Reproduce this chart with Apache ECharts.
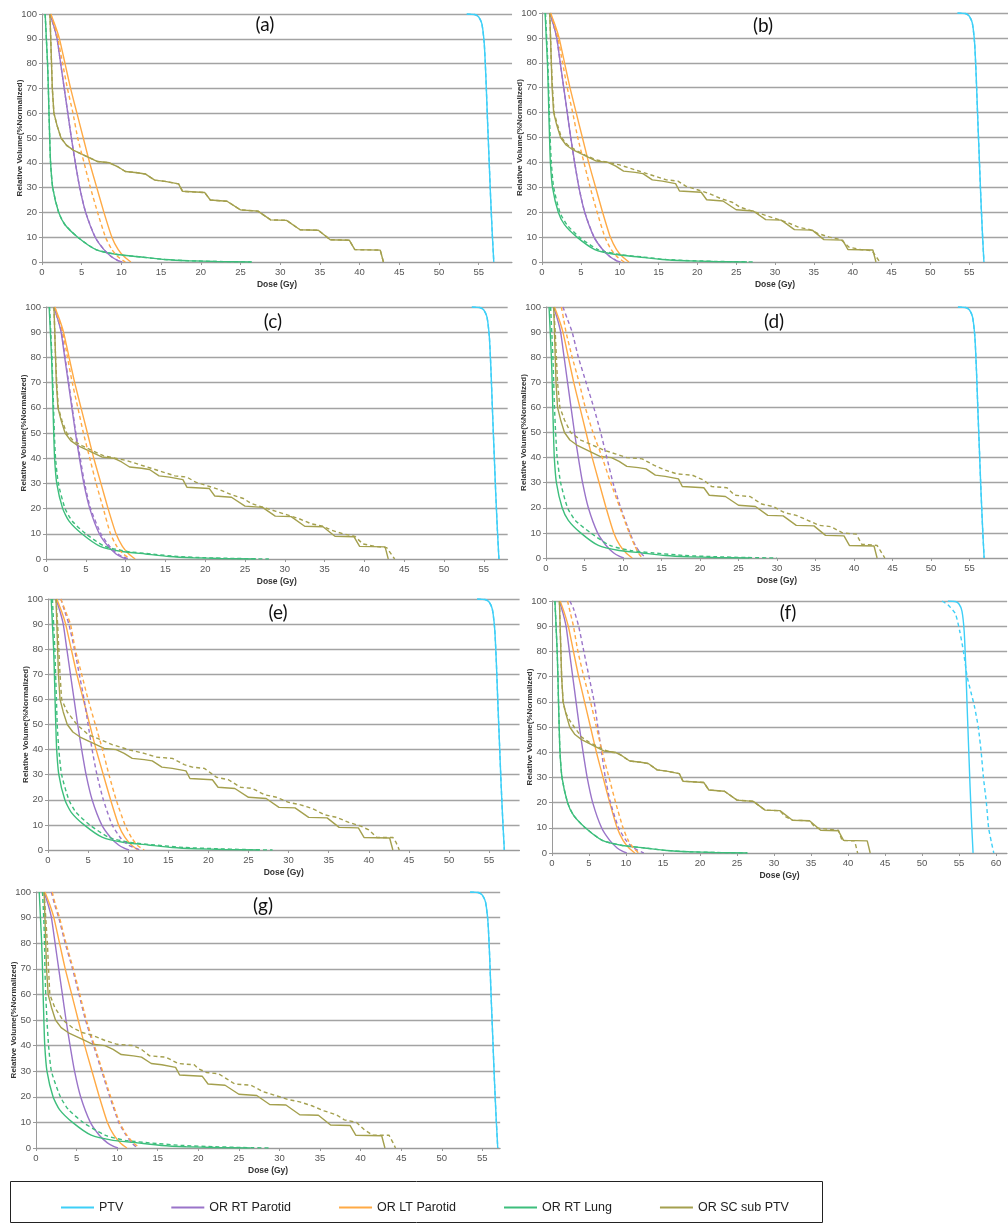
<!DOCTYPE html>
<html><head><meta charset="utf-8">
<script src="https://cdn.jsdelivr.net/npm/echarts@6/dist/echarts.min.js"></script>
<style>html,body{margin:0;padding:0;background:#fff}#c{width:1008px;height:1224px}</style>
</head><body><div id="c"></div><script>
// ---------- DATA ----------
const structures = ['PTV', 'OR RT Parotid', 'OR LT Parotid', 'OR RT Lung', 'OR SC sub PTV'];
const panelLabels = ['(a)', '(b)', '(c)', '(d)', '(e)', '(f)', '(g)'];

// reference plan (solid lines) - [dose Gy, volume %]
const ptvSolid = [[53.5,100],[54.5,99.8],[55.0,98.8],[55.4,96],[55.7,88],[55.9,75],[56.1,58],[56.3,42],[56.5,26],[56.7,12],[56.85,3],[56.9,0]];
const rtParotidSolid = [[1.0,100],[1.5,95],[1.9,90],[2.35,80],[2.8,70],[3.25,60],[3.7,50],[4.2,40],[4.75,30],[5.5,20],[6.7,10],[7.8,5],[8.8,2],[9.5,0.7],[10.1,0]];
const ltParotidSolid = [[1.1,100],[1.7,95],[2.2,90],[2.9,80],[3.6,70],[4.4,60],[5.2,50],[6.0,40],[6.9,30],[7.8,20],[8.8,10],[9.6,5],[10.4,2],[11.2,0]];
const rtLungSolid = [[0.4,100],[0.55,90],[0.7,80],[0.8,70],[0.88,60],[0.97,50],[1.08,40],[1.35,30],[2.1,20],[2.9,15],[4.5,10],[6.8,5],[9.5,3],[12.5,2],[15.5,1],[18.5,0.5],[22,0.2],[26.4,0]];
const scSolid = [[1.0,100],[1.1,90],[1.2,80],[1.3,70],[1.5,60],[1.9,55],[2.4,50],[3.1,47],[4.0,45],[5.0,43.5],[6.0,42],[7.0,40.5],[8.5,40],[9.5,38.5],[10.5,36.5],[12.0,36],[13.0,35.5],[14.2,33],[15.5,32.5],[17.2,31.5],[17.7,28.5],[20.5,28],[21.2,25],[23.3,24.5],[25.0,21],[27.2,20.5],[28.8,17],[30.8,16.8],[32.5,13],[34.8,12.8],[36.3,9],[38.7,8.8],[39.4,5],[42.6,4.8],[43.0,0]];

// comparison plans (dashed lines)
const ltParotidDashA = [[1.1,100],[1.6,95],[2.0,90],[2.6,80],[3.2,70],[3.9,60],[4.5,50],[5.3,40],[6.1,30],[7.0,20],[8.0,10],[8.8,5],[9.6,2],[10.5,0]];

const ltParotidDashB = [[1.1,100],[1.6,95],[2.05,90],[2.65,80],[3.25,70],[3.95,60],[4.6,50],[5.4,40],[6.2,30],[7.1,20],[8.1,10],[8.9,5],[9.7,2],[10.6,0]];
const rtLungDashB = [[0.45,100],[0.6,90],[0.75,80],[0.85,70],[0.95,60],[1.05,50],[1.2,40],[1.5,30],[2.3,20],[3.2,15],[4.8,10],[7.2,5],[10,3],[13,2],[16,1],[19.5,0.5],[23,0.2],[27.5,0]];
const scDashB = [[1.0,100],[1.1,90],[1.2,80],[1.35,70],[1.55,60],[2.0,55],[2.5,50],[3.3,47],[4.3,45],[5.5,43],[7.0,41],[8.5,40],[10.0,39],[11.5,37.5],[13.0,36],[14.5,34.5],[16.0,33],[17.5,32.5],[18.5,30.5],[20.0,29],[21.5,27.5],[23.0,25.5],[24.5,24],[25.5,22],[27.0,20.5],[28.5,19],[30.0,17.5],[31.5,16],[33.0,14],[34.5,13],[35.5,11.5],[37.0,10],[38.5,9],[39.5,6],[41.0,5],[42.5,4.5],[43.5,0]];

const rtParotidDashC = [[1.0,100],[1.5,95],[1.95,90],[2.4,80],[2.85,70],[3.3,60],[3.75,50],[4.3,40],[4.85,30],[5.6,20],[6.9,10],[8.0,5],[9.0,2],[9.8,0.7],[10.4,0]];
const ltParotidDashC = [[1.1,100],[1.6,95],[2.1,90],[2.7,80],[3.3,70],[4.0,60],[4.7,50],[5.5,40],[6.3,30],[7.2,20],[8.1,10],[8.9,5],[9.7,2],[10.6,0]];
const rtLungDashC = [[0.45,100],[0.6,90],[0.75,80],[0.85,70],[0.95,60],[1.05,50],[1.2,40],[1.55,30],[2.4,20],[3.3,15],[5.0,10],[7.4,5],[10.2,3],[13.2,2],[16.5,1],[20,0.5],[24,0.2],[28,0]];
const scDashC = [[1.0,100],[1.1,90],[1.2,80],[1.35,70],[1.55,60],[2.0,55],[2.6,50],[3.4,47],[4.5,45],[5.8,43],[7.2,41],[8.7,40],[10.2,39],[11.7,37.5],[13.2,36],[14.7,34.5],[16.2,33],[17.7,32.5],[18.8,30.5],[20.3,29],[21.8,27.5],[23.3,25.5],[24.8,24],[25.8,22],[27.3,20.5],[28.8,19],[30.3,17.5],[31.8,16],[33.3,14],[34.8,13],[35.8,11.5],[37.3,10],[38.8,9],[39.8,6],[41.3,5],[42.8,4.5],[43.8,0]];

const rtParotidDashD = [[2.2,100],[2.8,95],[3.4,90],[4.2,80],[5.2,70],[6.2,60],[7.1,50],[7.9,40],[8.7,30],[9.7,20],[10.9,10],[11.6,5],[12.3,2],[13.0,0]];
const ltParotidDashD = [[2.0,100],[2.3,95],[2.6,90],[3.4,80],[4.3,70],[5.1,60],[6.1,50],[7.3,40],[8.4,30],[9.6,20],[10.8,10],[11.5,5],[12.0,2],[12.5,0]];
const rtLungDashD = [[0.6,100],[0.75,90],[0.9,80],[1.0,70],[1.1,60],[1.25,50],[1.45,40],[1.9,30],[2.8,20],[3.8,15],[5.8,10],[8.3,5],[11,3],[14,2],[18,1],[22,0.5],[26,0.2],[30,0]];
const scDashD = [[1.0,100],[1.2,90],[1.35,80],[1.5,70],[1.8,60],[2.4,55],[3.2,50],[4.5,47],[6.0,45],[7.5,43],[9.0,41.5],[10.5,40],[12.5,39.5],[14.0,37],[15.5,35],[17.0,33.5],[19.0,33],[20.5,31],[21.5,28.5],[23.5,28],[24.5,25],[26.5,24.5],[28.0,21.5],[29.5,20.5],[31.0,18],[32.5,17],[34.0,15],[35.5,13],[37.0,12.5],[38.5,10],[40.3,9.5],[41.0,5.5],[43.0,5],[43.4,3],[44.0,0]];

const rtParotidDashE = [[1.6,100],[2.1,95],[2.6,90],[3.3,80],[3.9,70],[4.5,60],[5.0,50],[5.5,40],[6.1,30],[6.9,20],[8.0,10],[9.0,5],[10.0,2],[11.5,0]];
const ltParotidDashE = [[1.6,100],[2.2,95],[2.8,90],[3.4,80],[4.2,70],[5.0,60],[5.9,50],[6.8,40],[7.6,30],[8.5,20],[9.6,10],[10.4,5],[11.1,2],[12.0,0]];
const rtLungDashE = [[0.55,100],[0.7,90],[0.85,80],[0.95,70],[1.05,60],[1.15,50],[1.35,40],[1.7,30],[2.6,20],[3.5,15],[5.2,10],[7.6,5],[10.3,3],[13.3,2],[17,1],[21,0.5],[24.5,0.2],[28,0]];
const scDashE = [[1.0,100],[1.2,90],[1.35,80],[1.5,70],[1.7,60],[2.4,55],[3.6,50],[5.0,46],[6.5,44],[8.0,42],[10.0,40],[12.0,38.5],[13.5,37],[15.5,36.5],[17.0,34],[18.0,33],[19.5,32.5],[21.0,29],[22.5,28],[24.0,25],[25.5,24.5],[27.0,22],[28.5,21],[30.0,19],[31.5,18],[33.0,16.5],[34.5,14],[36.0,13],[37.5,11],[39.0,9.5],[40.0,8],[41.0,5],[43.0,5],[43.4,3],[43.8,0]];

const rtParotidDashF = [[2.4,100],[2.9,97],[3.6,90],[4.3,80],[5.0,70],[5.7,60],[6.2,50],[6.7,40],[7.2,30],[7.9,20],[9.0,10],[10.0,5],[11.0,2],[12.4,0]];
const ltParotidDashF = [[2.1,100],[2.5,95],[2.9,90],[3.5,80],[4.3,70],[5.2,60],[6.0,50],[6.8,40],[7.7,30],[8.6,20],[9.6,10],[10.3,5],[11.0,2],[11.7,0]];
const scDashF = [[1.0,100],[1.1,90],[1.2,80],[1.3,70],[1.5,60],[1.8,56],[2.3,53],[3.0,50],[4.0,46],[5.0,44],[6.0,42.5],[7.0,41],[8.0,40],[9.0,39.5],[10.5,36.5],[12.0,36],[13.0,35.5],[14.2,33],[15.5,32.5],[17.2,31.5],[17.7,28.5],[20.5,28],[21.2,25],[23.3,24.5],[25.0,21],[27.2,20.5],[28.8,17],[30.8,16.8],[31.5,14.5],[32.5,13],[34.8,12.8],[35.6,10],[38.7,9],[39.2,5],[40.9,4.8],[41.3,0]];
const ptvDashF = [[52.7,100],[53.5,98.5],[54.5,95],[55.1,88],[55.6,80],[56.1,70],[56.6,64],[57.1,58],[57.6,50],[58.0,40],[58.3,30],[58.7,20],[59.0,10],[59.4,4],[59.7,0]];

const rtParotidDashG = [[1.9,100],[2.3,95],[2.8,90],[3.6,80],[4.5,70],[5.3,60],[6.1,50],[7.1,40],[8.1,30],[9.1,20],[10.2,10],[11.1,5],[11.8,2],[12.5,0]];
const ltParotidDashG = [[2.0,100],[2.4,95],[2.9,90],[3.7,80],[4.6,70],[5.4,60],[6.2,50],[7.2,40],[8.2,30],[9.2,20],[10.3,10],[11.2,5],[12.0,2],[12.8,0]];
const rtLungDashG = [[0.8,100],[0.95,90],[1.05,80],[1.1,70],[1.2,60],[1.35,50],[1.55,40],[1.9,30],[3.0,20],[4.0,15],[5.8,10],[8.5,5],[11,3],[14,2],[18,1],[22,0.5],[25.5,0.2],[29,0]];
const scDashG = [[1.0,100],[1.2,90],[1.4,80],[1.55,70],[1.7,60],[2.3,55],[3.3,50],[4.5,47],[5.8,45],[7.0,44],[8.5,42],[10.0,40.5],[12.0,40],[13.0,38.5],[14.0,36],[16.0,35.5],[17.5,33],[19.5,32.5],[20.0,31],[21.0,29.5],[22.5,29],[23.5,27],[24.5,25],[26.5,24.5],[28.0,22],[29.5,20.5],[31.0,19],[32.5,18],[34.0,16.5],[35.5,14.5],[37.0,13],[38.0,11],[39.5,10],[40.5,7],[41.5,5],[43.5,5],[44.0,2],[44.3,0]];

// ---------- BUILD ----------
const solidCurves = [ptvSolid, rtParotidSolid, ltParotidSolid, rtLungSolid, scSolid];
const dashedCurves = [
  [ptvSolid, rtParotidSolid, ltParotidDashA, rtLungSolid, scSolid],
  [ptvSolid, rtParotidSolid, ltParotidDashB, rtLungDashB, scDashB],
  [ptvSolid, rtParotidDashC, ltParotidDashC, rtLungDashC, scDashC],
  [ptvSolid, rtParotidDashD, ltParotidDashD, rtLungDashD, scDashD],
  [ptvSolid, rtParotidDashE, ltParotidDashE, rtLungDashE, scDashE],
  [ptvDashF, rtParotidDashF, ltParotidDashF, rtLungSolid, scDashF],
  [ptvSolid, rtParotidDashG, ltParotidDashG, rtLungDashG, scDashG]
];
const colors = ['#3ECFF7', '#9A74C9', '#FFAA45', '#3DBE7C', '#A4A04E'];

// panel layout (pixel geometry)
const layout = [
  {left: 42,  top: 14,  h: 248, scale: 7.94,  max: 59.2, tx: 265, ty: 25},
  {left: 542, top: 13,  h: 249, scale: 7.94,  max: 60,   tx: 763, ty: 26},
  {left: 46,  top: 307, h: 252, scale: 7.96,  max: 58,   tx: 273, ty: 322},
  {left: 546, top: 307, h: 251, scale: 8.03,  max: 60,   tx: 774, ty: 322},
  {left: 48,  top: 599, h: 251, scale: 8.02,  max: 58.8, tx: 278, ty: 613},
  {left: 552, top: 601, h: 252, scale: 7.40,  max: 61.5, tx: 788, ty: 613},
  {left: 36,  top: 892, h: 256, scale: 8.115, max: 57.2, tx: 263, ty: 906}
];

const labelFont = 'Liberation Sans';
const grid = [], xAxis = [], yAxis = [], series = [], graphic = [];
layout.forEach((p, i) => {
  grid.push({left: p.left, top: p.top, width: p.max * p.scale, height: p.h, containLabel: false});
  xAxis.push({
    type: 'value', gridIndex: i, min: 0, max: p.max, interval: 5,
    name: 'Dose (Gy)', nameLocation: 'middle', nameGap: 18, nameMoveOverlap: false,
    nameTextStyle: {fontFamily: labelFont, fontSize: 8.5, fontWeight: 'bold', color: '#333'},
    axisLine: {show: true, lineStyle: {color: '#9a9a9a', width: 1}},
    axisTick: {show: true, length: 3, lineStyle: {color: '#9a9a9a'}},
    axisLabel: {fontFamily: labelFont, fontSize: 9.5, color: '#555', margin: 5, showMaxLabel: false},
    splitLine: {show: false}
  });
  yAxis.push({
    type: 'value', gridIndex: i, min: 0, max: 100, interval: 10,
    name: 'Relative Volume(%Normalized)', nameLocation: 'middle', nameGap: 18, nameMoveOverlap: false,
    nameTextStyle: {fontFamily: labelFont, fontSize: 8, fontWeight: 'bold', color: '#333'},
    axisLine: {show: true, lineStyle: {color: '#9a9a9a', width: 1}},
    axisTick: {show: true, length: 3, lineStyle: {color: '#9a9a9a'}},
    axisLabel: {fontFamily: labelFont, fontSize: 9.5, color: '#555', margin: 5},
    splitLine: {show: true, lineStyle: {color: '#a3a3a3', width: 1.3}}
  });
  structures.forEach((name, s) => {
    series.push({
      type: 'line', name, xAxisIndex: i, yAxisIndex: i, data: solidCurves[s],
      symbol: 'none', showSymbol: false, smooth: s === 4 ? false : 0.2,
      lineStyle: {color: colors[s], width: 1.4, type: 'solid'},
      itemStyle: {color: colors[s]}, silent: true, animation: false, z: 2
    });
  });
  structures.forEach((name, s) => {
    series.push({
      type: 'line', name, xAxisIndex: i, yAxisIndex: i, data: dashedCurves[i][s],
      symbol: 'none', showSymbol: false, smooth: s === 4 ? false : 0.2,
      lineStyle: {color: colors[s], width: 1.4, type: [4, 3]},
      itemStyle: {color: colors[s]}, silent: true, animation: false, z: 3
    });
  });
  graphic.push({
    type: 'text', x: p.tx, y: p.ty, z: 10,
    style: {text: panelLabels[i], fill: '#111', font: '19px Lato, "Open Sans", sans-serif',
            align: 'center', verticalAlign: 'middle'}
  });
});
graphic.push({
  type: 'rect', shape: {x: 10.5, y: 1181.5, width: 812, height: 41}, z: 10,
  style: {fill: 'none', stroke: '#222', lineWidth: 1}
});

const chart = echarts.init(document.getElementById('c'), null, {renderer: 'canvas'});
chart.setOption({
  backgroundColor: '#fff',
  animation: false,
  grid, xAxis, yAxis, series, graphic,
  legend: {
    data: structures.map(n => ({name: n, icon: 'rect'})),
    left: 56, top: 1196, itemWidth: 33, itemHeight: 2, itemGap: 48,
    selectedMode: false,
    textStyle: {fontFamily: labelFont, fontSize: 12.5, color: '#222'}
  }
});
</script></body></html>
